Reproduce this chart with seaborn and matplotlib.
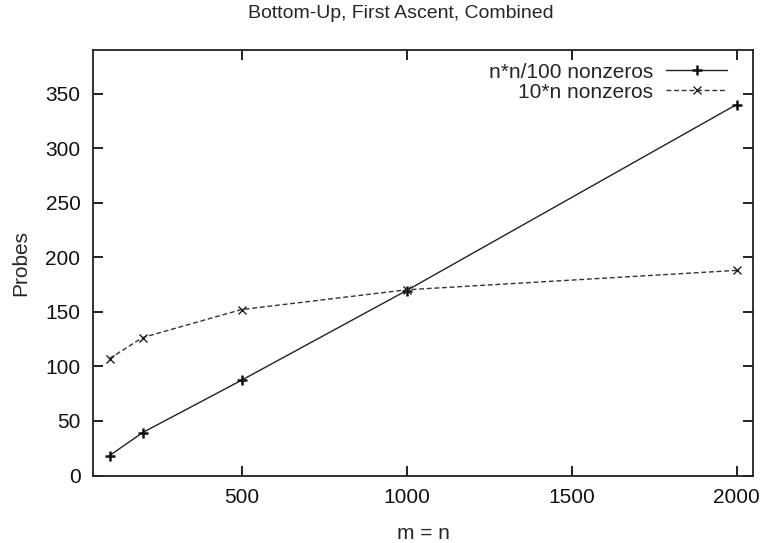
import matplotlib
matplotlib.use("Agg")
import matplotlib.pyplot as plt
import seaborn as sns
import pandas as pd

m_values = [100, 200, 500, 1000, 2000]
dense_probes = [18.2, 39.3, 87.3, 169.5, 340]
sparse_probes = [107.2, 126.4, 152.1, 170.2, 188]
series_names = ["n*n/100 nonzeros", "10*n nonzeros"]
x_ticks = [500, 1000, 1500, 2000]
y_ticks = [0, 50, 100, 150, 200, 250, 300, 350]

sns.set_style("ticks")
plt.rcParams['font.family'] = ['Liberation Sans', 'DejaVu Sans']
FS = 15

fig = plt.figure(figsize=(7.62, 5.43), dpi=100)
ax = fig.add_axes([93/762, 1-475.5/543, (753-93)/762, (475.5-50)/543])

df1 = pd.DataFrame({"m": m_values, "probes": dense_probes})
df2 = pd.DataFrame({"m": m_values, "probes": sparse_probes})

sns.lineplot(data=df1, x="m", y="probes", ax=ax, color="#222222", lw=1.0,
             marker="+", markersize=7, markeredgewidth=1.8,
             markeredgecolor="#111111", label=series_names[0])
sns.lineplot(data=df2, x="m", y="probes", ax=ax, color="#333333", lw=1.0,
             linestyle=(0, (3.5, 2)), marker="x", markersize=5.5, markeredgewidth=1.0,
             markeredgecolor="#222222", label=series_names[1])

ax.set_xlim(50, 2050)
ax.set_ylim(0, 390)
ax.set_xticks(x_ticks)
ax.set_yticks(y_ticks)
ax.tick_params(direction="in", length=7, width=1.3, top=True, right=True,
               labelsize=FS, pad=9, colors="#111111")
for s in ax.spines.values():
    s.set_linewidth(1.3)
    s.set_color("#222222")

ax.set_xlabel("m = n", fontsize=FS, labelpad=12)
ax.set_ylabel("Probes", fontsize=FS, labelpad=11)
fig.text(401/762, 1-14/543, "Bottom-Up, First Ascent, Combined", ha="center",
         va="center", fontsize=14)

leg = ax.legend(loc="upper right", frameon=False, markerfirst=False,
                handlelength=2.95, fontsize=FS, borderaxespad=0.2,
                labelspacing=0.05, handletextpad=0.6, bbox_to_anchor=(0.98, 1.0))

fig.savefig("out.png", dpi=100)
